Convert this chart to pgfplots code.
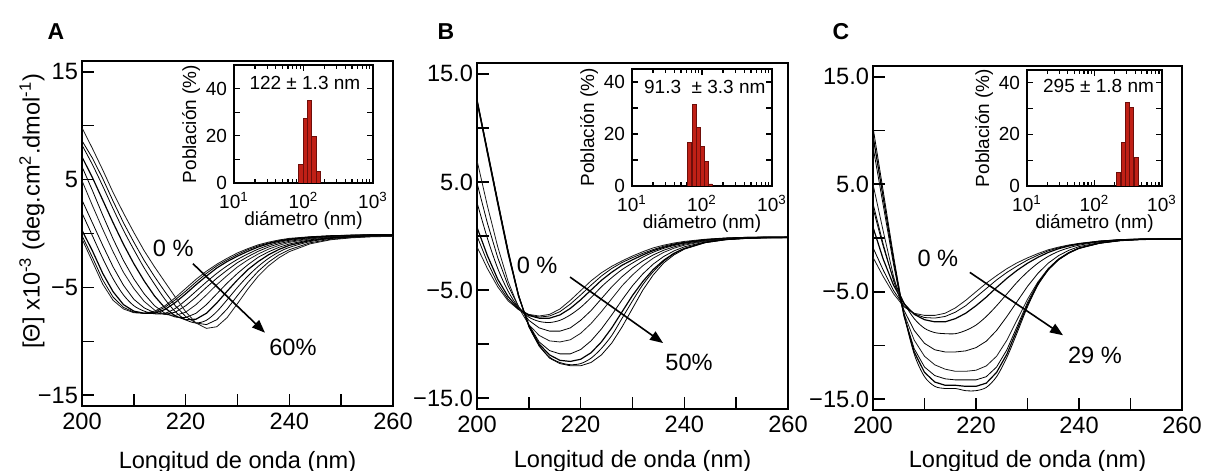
\documentclass[border=0pt]{standalone}
\usepackage{pgfplots}
\pgfplotsset{compat=1.18}
\usepackage{pgfplotstable}
\usepackage{fontspec}
\setmainfont{Liberation Sans}
\setsansfont{Liberation Sans}
\usetikzlibrary{arrows.meta}

\definecolor{barfill}{RGB}{192,32,22}
\definecolor{baredge}{RGB}{110,14,10}

\pgfplotstableread{
n 200 202 204 206 208 210 212 214 216 218 220 222 224 226 228 230 232 234 236 238 240 244 248 252 256 260
a0 -0.5 -2.6 -4.7 -6.2 -7.0 -7.35 -7.4 -7.2 -6.7 -5.95 -5.1 -4.25 -3.5 -2.85 -2.3 -1.8 -1.4 -1.05 -0.8 -0.6 -0.45 -0.3 -0.2 -0.15 -0.1 -0.1
a1 -0.2 -2.2 -4.3 -5.9 -6.85 -7.3 -7.4 -7.3 -6.85 -6.15 -5.35 -4.5 -3.7 -3.0 -2.45 -1.95 -1.5 -1.15 -0.88 -0.66 -0.5 -0.32 -0.22 -0.16 -0.12 -0.1
a2 0.3 -1.6 -3.7 -5.4 -6.6 -7.2 -7.4 -7.4 -7.05 -6.4 -5.6 -4.75 -3.95 -3.2 -2.6 -2.1 -1.65 -1.25 -0.95 -0.72 -0.55 -0.35 -0.24 -0.17 -0.13 -0.12
a3 1.9 -0.2 -2.3 -4.2 -5.7 -6.7 -7.2 -7.45 -7.4 -6.95 -6.2 -5.35 -4.5 -3.7 -3.0 -2.4 -1.9 -1.45 -1.1 -0.83 -0.63 -0.4 -0.27 -0.2 -0.15 -0.13
a4 3.1 1.0 -1.1 -3.1 -4.8 -6.1 -6.9 -7.35 -7.5 -7.3 -6.7 -5.9 -5.0 -4.15 -3.4 -2.7 -2.15 -1.65 -1.25 -0.95 -0.72 -0.45 -0.3 -0.22 -0.17 -0.15
a5 4.9 2.6 0.4 -1.7 -3.6 -5.1 -6.3 -7.1 -7.5 -7.6 -7.3 -6.6 -5.7 -4.75 -3.9 -3.1 -2.45 -1.9 -1.45 -1.1 -0.82 -0.5 -0.33 -0.24 -0.19 -0.17
a6 6.2 4.0 1.7 -0.5 -2.5 -4.2 -5.6 -6.7 -7.4 -7.75 -7.8 -7.4 -6.6 -5.6 -4.6 -3.7 -2.9 -2.2 -1.7 -1.28 -0.97 -0.58 -0.38 -0.27 -0.21 -0.19
a7 7.1 5.2 3.1 1.0 -1.0 -2.8 -4.4 -5.8 -6.9 -7.65 -8.0 -7.95 -7.4 -6.45 -5.35 -4.3 -3.35 -2.6 -1.97 -1.48 -1.1 -0.65 -0.42 -0.3 -0.23 -0.21
a8 8.2 6.4 4.4 2.3 0.3 -1.5 -3.2 -4.7 -6.1 -7.25 -8.0 -8.3 -8.05 -7.25 -6.15 -5.0 -3.95 -3.05 -2.3 -1.72 -1.29 -0.75 -0.47 -0.33 -0.26 -0.23
a9 8.6 7.0 5.1 3.0 1.0 -0.8 -2.5 -4.0 -5.4 -6.7 -7.7 -8.3 -8.45 -8.0 -7.0 -5.75 -4.55 -3.5 -2.65 -1.98 -1.5 -0.86 -0.53 -0.37 -0.28 -0.25
a10 9.8 7.9 5.9 3.8 1.9 0.1 -1.6 -3.1 -4.5 -5.9 -7.25 -8.3 -8.8 -8.65 -7.8 -6.5 -5.15 -3.95 -3.0 -2.25 -1.68 -0.96 -0.58 -0.4 -0.3 -0.27
}\rawA
\pgfplotstabletranspose[colnames from=n]\tabA\rawA

\pgfplotstableread{
n 200 202 204 206 208 210 212 214 216 218 220 222 224 226 228 230 232 234 236 238 240 244 248 252 256 260
b0 -1.0 -3.0 -4.7 -6.0 -6.8 -7.25 -7.4 -7.25 -6.75 -5.95 -5.05 -4.15 -3.4 -2.8 -2.3 -1.85 -1.45 -1.1 -0.85 -0.65 -0.5 -0.3 -0.18 -0.12 -0.1 -0.1
b1 0.0 -2.4 -4.4 -5.85 -6.8 -7.3 -7.5 -7.4 -7.0 -6.3 -5.45 -4.55 -3.7 -3.0 -2.45 -2.0 -1.6 -1.25 -0.95 -0.73 -0.57 -0.33 -0.2 -0.13 -0.1 -0.1
b2 0.8 -1.8 -4.0 -5.6 -6.7 -7.35 -7.6 -7.6 -7.3 -6.7 -5.9 -5.0 -4.1 -3.35 -2.7 -2.2 -1.75 -1.35 -1.05 -0.8 -0.62 -0.36 -0.22 -0.14 -0.11 -0.1
b3 3.1 -0.2 -3.0 -5.1 -6.6 -7.5 -7.9 -8.0 -7.8 -7.3 -6.6 -5.7 -4.7 -3.85 -3.1 -2.5 -1.95 -1.5 -1.15 -0.88 -0.68 -0.4 -0.24 -0.15 -0.12 -0.11
b4 4.9 1.2 -2.0 -4.6 -6.5 -7.8 -8.5 -8.8 -8.8 -8.5 -7.8 -6.9 -5.8 -4.7 -3.75 -2.95 -2.3 -1.75 -1.32 -1.0 -0.76 -0.44 -0.26 -0.17 -0.13 -0.12
b5 7.0 2.8 -1.0 -4.2 -6.6 -8.2 -9.2 -9.7 -9.8 -9.6 -9.0 -8.1 -7.0 -5.8 -4.6 -3.6 -2.75 -2.05 -1.52 -1.13 -0.85 -0.48 -0.28 -0.18 -0.14 -0.13
b6 12.4 7.6 2.9 -1.7 -5.6 -8.2 -9.8 -10.6 -10.9 -10.9 -10.5 -9.7 -8.6 -7.3 -5.9 -4.6 -3.5 -2.6 -1.9 -1.38 -1.0 -0.55 -0.31 -0.2 -0.15 -0.14
b7 12.5 7.8 3.1 -1.5 -5.5 -8.3 -10.0 -11.0 -11.5 -11.6 -11.4 -10.8 -9.8 -8.5 -7.0 -5.5 -4.2 -3.1 -2.25 -1.6 -1.15 -0.6 -0.33 -0.21 -0.16 -0.15
b8 12.6 7.9 3.2 -1.4 -5.4 -8.3 -10.1 -11.2 -11.7 -11.9 -11.8 -11.3 -10.4 -9.2 -7.6 -6.0 -4.5 -3.3 -2.35 -1.65 -1.18 -0.6 -0.33 -0.21 -0.16 -0.15
b9 12.7 8.0 3.3 -1.3 -5.4 -8.4 -10.2 -11.3 -11.8 -12.0 -12.0 -11.7 -11.0 -9.9 -8.4 -6.7 -5.0 -3.6 -2.5 -1.75 -1.22 -0.62 -0.34 -0.22 -0.17 -0.16
}\rawB
\pgfplotstabletranspose[colnames from=n]\tabB\rawB

\pgfplotstableread{
n 200 202 204 206 208 210 212 214 216 218 220 222 224 226 228 230 232 234 236 238 240 244 248 252 256 260
c0 -1.8 -3.6 -5.2 -6.4 -7.0 -7.2 -7.2 -7.0 -6.5 -5.8 -5.0 -4.2 -3.5 -2.85 -2.3 -1.85 -1.45 -1.1 -0.85 -0.65 -0.5 -0.28 -0.15 -0.1 -0.08 -0.08
c1 -0.9 -3.0 -4.9 -6.3 -7.05 -7.4 -7.45 -7.3 -6.9 -6.3 -5.5 -4.7 -3.9 -3.2 -2.6 -2.05 -1.6 -1.2 -0.92 -0.7 -0.53 -0.3 -0.16 -0.1 -0.08 -0.08
c2 1.0 -2.0 -4.4 -6.1 -7.1 -7.6 -7.8 -7.8 -7.5 -7.0 -6.3 -5.5 -4.6 -3.75 -3.0 -2.35 -1.8 -1.35 -1.0 -0.75 -0.56 -0.31 -0.17 -0.1 -0.08 -0.08
c3 2.8 -0.8 -3.8 -6.0 -7.5 -8.4 -8.8 -8.9 -8.9 -8.6 -8.1 -7.3 -6.3 -5.2 -4.1 -3.15 -2.35 -1.72 -1.25 -0.92 -0.67 -0.36 -0.19 -0.11 -0.09 -0.08
c4 3.2 -0.6 -4.0 -6.7 -8.6 -9.8 -10.4 -10.6 -10.6 -10.5 -10.2 -9.6 -8.6 -7.3 -5.9 -4.5 -3.3 -2.35 -1.65 -1.15 -0.8 -0.42 -0.21 -0.12 -0.09 -0.08
c5 5.0 0.6 -3.6 -7.0 -9.5 -11.0 -11.8 -12.2 -12.4 -12.4 -12.3 -11.9 -11.0 -9.5 -7.6 -5.7 -4.1 -2.85 -1.95 -1.35 -0.92 -0.46 -0.23 -0.13 -0.1 -0.09
c6 8.5 3.0 -2.5 -7.2 -10.3 -12.0 -12.8 -13.1 -13.2 -13.2 -13.2 -12.9 -12.0 -10.4 -8.2 -6.0 -4.2 -2.9 -2.0 -1.38 -0.95 -0.48 -0.24 -0.14 -0.1 -0.09
c7 9.5 3.7 -2.1 -7.2 -10.6 -12.5 -13.4 -13.7 -13.7 -13.8 -13.8 -13.5 -12.5 -10.8 -8.5 -6.2 -4.3 -2.95 -2.02 -1.4 -0.96 -0.48 -0.24 -0.14 -0.1 -0.09
c8 10.3 4.3 -1.7 -7.0 -10.8 -12.9 -13.8 -14.0 -14.0 -14.2 -14.2 -13.9 -12.9 -11.1 -8.8 -6.4 -4.4 -3.0 -2.05 -1.42 -0.97 -0.49 -0.24 -0.14 -0.1 -0.09
}\rawC
\pgfplotstabletranspose[colnames from=n]\tabC\rawC

\newcommand{\mainfont}{\fontsize{11.8}{14}\selectfont}
\newcommand{\insetfont}{\fontsize{9.5}{11}\selectfont}

\pgfplotsset{
  cdaxis/.style={
    scale only axis,
    xmin=200, xmax=260, ymin=-16, ymax=16,
    tick align=inside, tick pos=left,
    xtick={200,210,...,260}, ytick={-15,-10,...,15},
    xticklabels={200,,220,,240,,260},
    major tick length=6pt,
    axis line style={line width=1pt},
    every tick/.style={black, line width=0.8pt},
    tick label style={font=\mainfont},
    xticklabel style={anchor=base, yshift=-12pt},
    yticklabel style={xshift=1.5pt},
    label style={font=\mainfont},
    xlabel={Longitud de onda (nm)},
    cycle list={{black!90, mark=none, line width=0.6pt, smooth, tension=0.6}},
  },
  dlsaxis/.style={
    scale only axis,
    xmin=10, xmax=1000, ymin=0,
    axis background/.style={fill=white},
    tick align=inside,
    xtick={10,100,1000},
    xticklabels={10\textsuperscript{1},10\textsuperscript{2},10\textsuperscript{3}},
    ytick={0,10,20,30,40},
    yticklabels={0,,20,,40},
    major tick length=3pt, minor tick length=2pt,
    axis line style={line width=0.9pt},
    every tick/.style={black, line width=0.6pt},
    tick label style={font=\insetfont},
    xticklabel style={anchor=base, yshift=-13pt},
    label style={font=\insetfont},
    xlabel={diámetro (nm)},
    xlabel style={at={(axis description cs:0.5,0)}, anchor=base, yshift=-21.5pt},
    ylabel={Población (\%)},
    ylabel style={at={(axis description cs:0,0.5)}, anchor=center, yshift=21.5pt},
  },
  dlsbar/.style={ybar, bar width=2.1pt, fill=barfill, draw=baredge, line width=0.4pt},
}

\begin{document}
\begin{tikzpicture}
\useasboundingbox (0,0) rectangle (602.5pt,235.5pt);

% ---------- Panel A ----------
\node[font=\fontsize{11.5}{13}\selectfont\bfseries] at (28pt,219.5pt) {A};
\begin{axis}[cdaxis, at={(41pt,32.5pt)}, anchor=south west,
  width=155.5pt, height=172.5pt,
  yticklabels={−15,,−5,,5,,15},
  xlabel style={at={(axis description cs:0.5,0)}, anchor=base, yshift=-31pt},
  ylabel={[Θ] x10\textsuperscript{-3} (deg.cm\textsuperscript{2}.dmol\textsuperscript{-1})},
  ylabel style={at={(axis description cs:0,0.565)}, anchor=center, yshift=25pt}]
\pgfplotsinvokeforeach{0,...,10}{\addplot table[x=colnames, y=a#1]{\tabA};}
\draw[-{Triangle[length=6.5pt,width=5pt]}, line width=0.8pt] (axis cs:221.4,-2.8) -- (axis cs:235.3,-9.2);
\node[font=\mainfont] at (axis cs:217.6,-1.4) {0 \%};
\node[font=\mainfont] at (axis cs:240.7,-10.6) {60\%};
\end{axis}
\begin{axis}[xmode=log, dlsaxis, at={(117pt,144pt)}, anchor=south west, width=69.5pt, height=59pt, ymax=50]
\addplot[dlsbar] coordinates {(92,8) (106,27.5) (122,34.8) (141,19.8) (162,4.9)};
\node[font=\insetfont] at (rel axis cs:0.51,0.85) {122 ± 1.3 nm};
\end{axis}

% ---------- Panel B ----------
\node[font=\fontsize{11.5}{13}\selectfont\bfseries] at (223pt,219.5pt) {B};
\begin{axis}[cdaxis, at={(238.5pt,31pt)}, anchor=south west,
  width=155.5pt, height=173pt,
  xlabel style={at={(axis description cs:0.5,0)}, anchor=base, yshift=-29.5pt},
  yticklabels={−15.0,,−5.0,,5.0,,15.0}]
\pgfplotsinvokeforeach{0,...,9}{\addplot table[x=colnames, y=b#1]{\tabB};}
\draw[-{Triangle[length=6.5pt,width=5pt]}, line width=0.8pt] (axis cs:217.95,-3.8) -- (axis cs:235.9,-9.9);
\node[font=\mainfont] at (axis cs:211.6,-2.7) {0 \%};
\node[font=\mainfont] at (axis cs:240.9,-11.7) {50\%};
\end{axis}
\begin{axis}[xmode=log, dlsaxis, at={(316pt,142.5pt)}, anchor=south west, width=70pt, height=58.5pt, ymax=45]
\addplot[dlsbar] coordinates {(66.7,16.8) (77.6,31.5) (88.5,22.4) (101,15.1) (115,9.6) (131,0.8)};
\node[font=\insetfont] at (rel axis cs:0.52,0.85) {91.3 \ ± 3.3 nm};
\end{axis}

% ---------- Panel C ----------
\node[font=\fontsize{11.5}{13}\selectfont\bfseries] at (420.5pt,219.5pt) {C};
\begin{axis}[cdaxis, at={(436.5pt,30.5pt)}, anchor=south west,
  width=154.5pt, height=172pt,
  xlabel style={at={(axis description cs:0.5,0)}, anchor=base, yshift=-29pt},
  yticklabels={−15.0,,−5.0,,5.0,,15.0}]
\pgfplotsinvokeforeach{0,...,8}{\addplot table[x=colnames, y=c#1]{\tabC};}
\draw[-{Triangle[length=6.5pt,width=5pt]}, line width=0.8pt] (axis cs:218.8,-3.2) -- (axis cs:236.9,-9.05);
\node[font=\mainfont] at (axis cs:212.6,-1.9) {0 \%};
\node[font=\mainfont] at (axis cs:243.1,-10.9) {29 \%};
\end{axis}
\begin{axis}[xmode=log, dlsaxis, at={(513.5pt,142.5pt)}, anchor=south west, width=67.5pt, height=58pt, ymax=45]
\addplot[dlsbar] coordinates {(228,5.2) (270,17) (310,32.5) (355,30.6) (412,11.1)};
\node[font=\insetfont] at (rel axis cs:0.53,0.86) {295 ± 1.8 nm};
\end{axis}
\end{tikzpicture}
\end{document}
